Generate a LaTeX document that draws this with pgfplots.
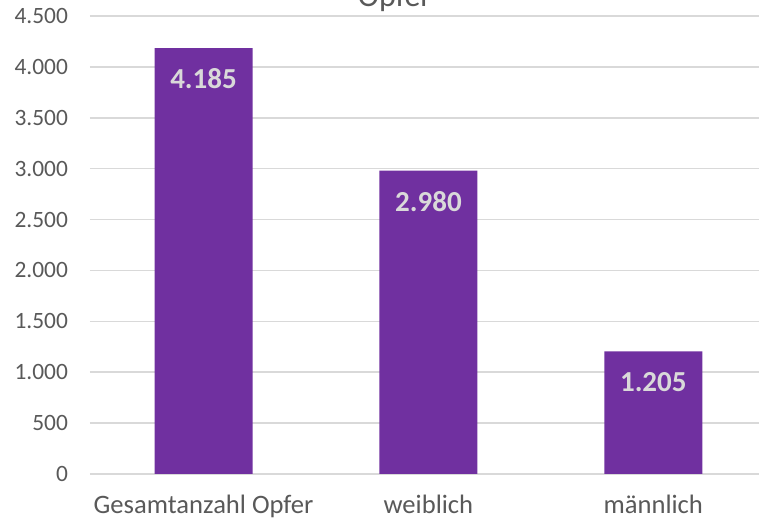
\documentclass[border=0pt]{standalone}
\usepackage{fontspec}
\setmainfont{Carlito}
\usepackage{pgfplots}
\pgfplotsset{compat=1.18}
\usetikzlibrary{calc}

\definecolor{barpurple}{HTML}{7030A0}
\definecolor{gridgray}{HTML}{D9D9D9}
\definecolor{textgray}{HTML}{595959}

\begin{document}
\begin{tikzpicture}
\begin{axis}[
    scale only axis,
    width=334.5pt,
    height=229pt,
    ybar,
    bar width=49pt,
    xmin=-0.505, xmax=2.47,
    ymin=0, ymax=4500,
    ytick={0,500,...,4500},
    xtick=data,
    xticklabels={Gesamtanzahl Opfer, weiblich, männlich},
    axis line style={draw=none},
    major tick length=0pt,
    ymajorgrids,
    grid style={gridgray, line width=0.8pt},
    tick label style={textgray, font=\fontsize{11.7}{13}\selectfont},
    xticklabel style={font=\fontsize{13.3}{15}\selectfont, yshift=-7pt},
    yticklabel style={xshift=-7.5pt},
    /pgf/number format/assume math mode=true,
    /pgf/number format/.cd, use comma, 1000 sep={.},
    /pgfplots/.cd,
    nodes near coords,
    nodes near coords style={anchor=center, yshift=-15.5pt, text=gridgray,
        font=\fontsize{14.5}{16}\selectfont\bfseries},
    clip=false,
]
\addplot[fill=barpurple, draw=none] coordinates {
    (0,4185) (1,2980) (2,1205)
};
\coordinate (sw) at (rel axis cs:0,0);
\coordinate (ne) at (rel axis cs:1,1);
\node[textgray, font=\fontsize{16}{18}\selectfont, anchor=base, yshift=4.5pt]
    at (axis cs:0.85,4500) {Opfer};
\end{axis}
\pgfresetboundingbox
\useasboundingbox ($(sw)+(-45pt,-24pt)$) rectangle ($(ne)+(0,8pt)$);
\end{tikzpicture}
\end{document}
